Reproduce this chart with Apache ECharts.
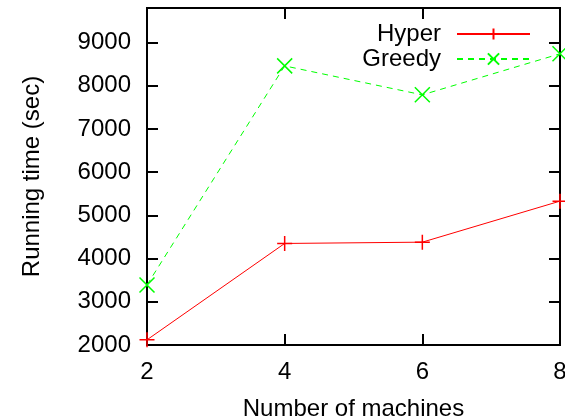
<!DOCTYPE html>
<html>
<head>
<meta charset="utf-8">
<script src="https://cdn.jsdelivr.net/npm/echarts@6/dist/echarts.min.js"></script>
<style>html,body{margin:0;padding:0;background:#fff}#c{width:565px;height:420px}</style>
</head>
<body>
<div id="c"></div>
<script>
const machines = [2, 4, 6, 8];
const hyper = [2120, 4350, 4380, 5330];
const greedy = [3390, 8460, 7790, 8740];
const xTicks = [2, 4, 6, 8];
const yTicks = [2000, 3000, 4000, 5000, 6000, 7000, 8000, 9000];

const FONT = 'Liberation Sans';
const chart = echarts.init(document.getElementById('c'), null, {renderer: 'canvas'});
const crossPath = 'path://M0,5L10,5M5,0L5,10';
const xPath = 'path://M0,0L10,10M10,0L0,10';

const tickStyle = {show: true, inside: true, length: 11, lineStyle: {color: '#000', width: 2}};
const axisLineStyle = {show: true, lineStyle: {color: '#000', width: 2}};

chart.setOption({
  animation: false,
  backgroundColor: '#fff',
  grid: {left: 147, right: 5, top: 8, bottom: 75, show: true, borderColor: '#000', borderWidth: 2,
         containLabel: false, outerBoundsMode: 'none'},
  legend: [
    {data: ['Hyper'], orient: 'vertical', align: 'right', right: 34, top: 22, padding: 0, itemWidth: 73, itemHeight: 14,
     textStyle: {fontFamily: FONT, fontSize: 24, color: '#000', padding: [0, 11, 0, 0]}},
    {data: ['Greedy'], orient: 'vertical', align: 'right', right: 34, top: 47, padding: 0, itemWidth: 73, itemHeight: 14,
     textStyle: {fontFamily: FONT, fontSize: 24, color: '#000', padding: [0, 11, 0, 0]}}
  ],
  xAxis: [
    {type: 'value', min: 2, max: 8, interval: 2, position: 'bottom',
     axisLine: axisLineStyle, axisTick: tickStyle, splitLine: {show: false},
     axisLabel: {fontFamily: FONT, fontSize: 24, color: '#000', margin: 15,
       formatter: v => xTicks.includes(v) ? String(v) : ''},
     name: 'Number of machines', nameLocation: 'middle', nameGap: 52,
     nameTextStyle: {fontFamily: FONT, fontSize: 24, color: '#000'}},
    {type: 'value', min: 2, max: 8, interval: 2, position: 'top',
     axisLine: axisLineStyle, axisTick: tickStyle, splitLine: {show: false}, axisLabel: {show: false}}
  ],
  yAxis: [
    {type: 'value', min: 2000, max: 9800, interval: 1000, position: 'left',
     axisLine: axisLineStyle, axisTick: tickStyle, splitLine: {show: false},
     axisLabel: {fontFamily: FONT, fontSize: 24, color: '#000', margin: 16, showMaxLabel: false,
       formatter: v => yTicks.includes(v) ? String(v) : ''},
     name: 'Running time (sec)', nameLocation: 'middle', nameGap: 103, nameRotate: 90,
     nameTextStyle: {fontFamily: FONT, fontSize: 24, color: '#000'}},
    {type: 'value', min: 2000, max: 9800, interval: 1000, position: 'right',
     axisLine: axisLineStyle, axisTick: tickStyle, splitLine: {show: false}, axisLabel: {show: false}}
  ],
  series: [
    {name: 'Hyper', type: 'line', data: machines.map((m, i) => [m, hyper[i]]),
     symbol: crossPath, symbolSize: 15, showAllSymbol: true,
     lineStyle: {color: '#ff0000', width: 1},
     itemStyle: {color: '#ff0000', borderColor: '#ff0000', borderWidth: 1.5},
     clip: false},
    {name: 'Greedy', type: 'line', data: machines.map((m, i) => [m, greedy[i]]),
     symbol: xPath, symbolSize: 15, showAllSymbol: true,
     lineStyle: {color: '#00ff00', width: 1, type: [6, 5]},
     itemStyle: {color: '#00ff00', borderColor: '#00ff00', borderWidth: 1.5},
     clip: false}
  ]
});
</script>
</body>
</html>
